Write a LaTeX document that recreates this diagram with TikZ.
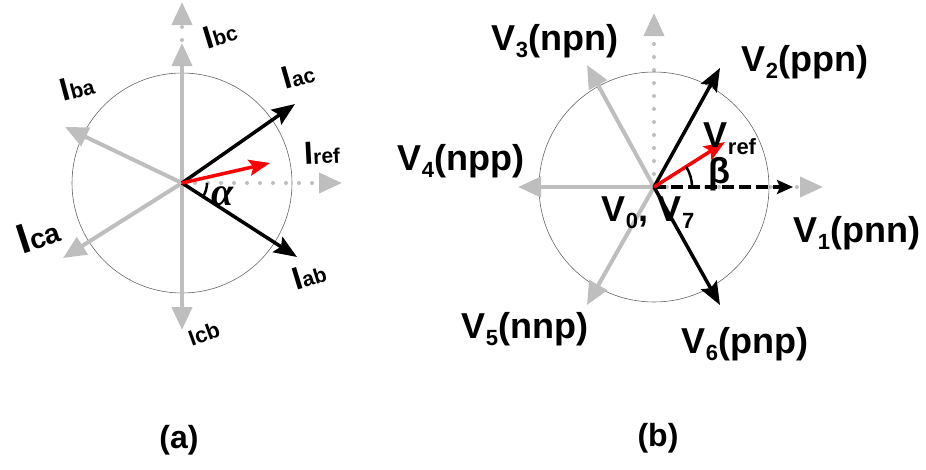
\documentclass[tikz,border=0pt]{standalone}
\usepackage{amsmath}
\usepackage{fontspec}
\setmainfont{Liberation Sans}
\newfontfamily\greekserif{Liberation Serif}
\usetikzlibrary{arrows.meta}
\definecolor{lgray}{RGB}{190,190,190}
\newcommand{\isub}[1]{{\fontsize{21}{21}\selectfont #1}}
\newcommand{\vsub}[1]{\raisebox{-0.2em}{\fontsize{22}{22}\selectfont #1}}

\begin{document}
\begin{tikzpicture}[x=1pt,y=1pt]
  \tikzstyle{ring}=[draw=black!60,line width=0.6pt]
  \tikzstyle{axis}=[lgray,line width=4pt,dash pattern=on 0pt off 13pt,line cap=round,-{Triangle[length=23pt,width=20pt]}]
  \tikzstyle{garrow}=[lgray,line width=4pt,-{Triangle[length=23pt,width=20pt]}]
  \tikzstyle{barrow}=[black,line width=3.5pt,-{Stealth[length=23pt,width=18pt,inset=4pt]}]
  \tikzstyle{rarrow}=[red,line width=3.5pt,-{Stealth[length=21pt,width=16pt,inset=4pt]}]
  \tikzstyle{ilabel}=[font=\fontsize{32}{32}\selectfont\bfseries,inner sep=0pt]
  \tikzstyle{vlabel}=[font=\fontsize{36}{36}\selectfont\bfseries,inner sep=0pt]
  \useasboundingbox (0,0) rectangle (926,-469);

  \coordinate (A) at (182,-183);
  \coordinate (Px) at (342,-183);
  \coordinate (Py) at (182,-2);
  \coordinate (Pbc) at (182,-43);
  \coordinate (Pcb) at (182,-330);
  \coordinate (Pba) at (65,-127);
  \coordinate (Pca) at (63,-258);
  \coordinate (Pac) at (295,-104);
  \coordinate (Pab) at (297,-257);
  \coordinate (Pref) at (270,-163);
  \draw[axis] (A) -- (Px);
  \draw[axis] (A) -- (Py);
  \draw[ring] (A) circle[radius=110pt];
  \draw[garrow] (A) -- (Pbc);
  \draw[garrow] (A) -- (Pcb);
  \draw[garrow] (A) -- (Pba);
  \draw[garrow] (A) -- (Pca);
  \draw[barrow] (A) -- (Pac);
  \draw[barrow] (A) -- (Pab);
  \draw[rarrow] (A) -- (Pref);
  \draw[line width=2.5pt] ([shift={(25,0)}]A) arc[start angle=0,end angle=-33,radius=25pt];
  \node[ilabel,rotate=17] (Lbc) at (220,-34) {I\isub{bc}};
  \node[ilabel,rotate=15] (Lba) at (77,-87) {I\isub{ba}};
  \node[ilabel,rotate=16] (Lac) at (298,-75) {I\isub{ac}};
  \node[ilabel,rotate=3] (Lref) at (322,-153) {I\isub{ref}};
  \node[ilabel,rotate=17] (Lab) at (309,-275) {I\isub{ab}};
  \node[inner sep=0pt,rotate=18,font=\bfseries] (Lca) at (38,-234) {\fontsize{42}{42}\selectfont I\fontsize{28}{28}\selectfont ca};
  \node[inner sep=0pt,rotate=20,font=\fontsize{22}{22}\selectfont\bfseries] (Lcb) at (204,-334) {Icb};
  \node[inner sep=0pt,font=\fontsize{40}{40}\selectfont\greekserif\bfseries\itshape] (Lalpha) at (223,-196) {α};
  \node[ilabel] (Ta) at (179,-440) {(a)};

  \coordinate (B) at (654,-187);
  \coordinate (Qx) at (823,-187);
  \coordinate (Qy) at (654,-13);
  \coordinate (Q1) at (793,-187);
  \coordinate (Q2) at (720,-68);
  \coordinate (Q3) at (587,-65);
  \coordinate (Q4) at (518,-187);
  \coordinate (Q5) at (587,-305);
  \coordinate (Q6) at (720,-305);
  \coordinate (Qref) at (725,-142);
  \draw[axis] (B) -- (Qx);
  \draw[axis] (B) -- (Qy);
  \draw[ring] (B) circle[radius=115pt];
  \draw[garrow] (B) -- (Q3);
  \draw[garrow] (B) -- (Q4);
  \draw[garrow] (B) -- (Q5);
  \draw[barrow] (B) -- (Q2);
  \draw[barrow] (B) -- (Q6);
  \draw[black,line width=3.5pt,dash pattern=on 12pt off 5pt,-{Stealth[length=16pt,width=14pt,inset=3pt]}] (B) -- (Q1);
  \draw[rarrow] (B) -- (Qref);
  \draw[line width=2.5pt] ([shift={(38,0)}]B) arc[start angle=0,end angle=32,radius=38pt];
  \node[vlabel] (L3) at (555,-41) {V\vsub{3}(npn)};
  \node[vlabel] (L2) at (805,-62) {V\vsub{2}(ppn)};
  \node[vlabel] (L4) at (461,-161) {V\vsub{4}(npp)};
  \node[vlabel] (L1) at (857,-233) {V\vsub{1}(pnn)};
  \node[vlabel] (L5) at (525,-329) {V\vsub{5}(nnp)};
  \node[vlabel] (L6) at (745,-344) {V\vsub{6}(pnp)};
  \node[vlabel] (L07) at (648,-213) {V\vsub{0}, V\vsub{7}};
  \node[vlabel] (Lref2) at (730,-139) {V\vsub{ref}};
  \node[vlabel] (Lbeta) at (719,-174) {β};
  \node[ilabel] (Tb) at (658,-438) {(b)};
\end{tikzpicture}
\end{document}
